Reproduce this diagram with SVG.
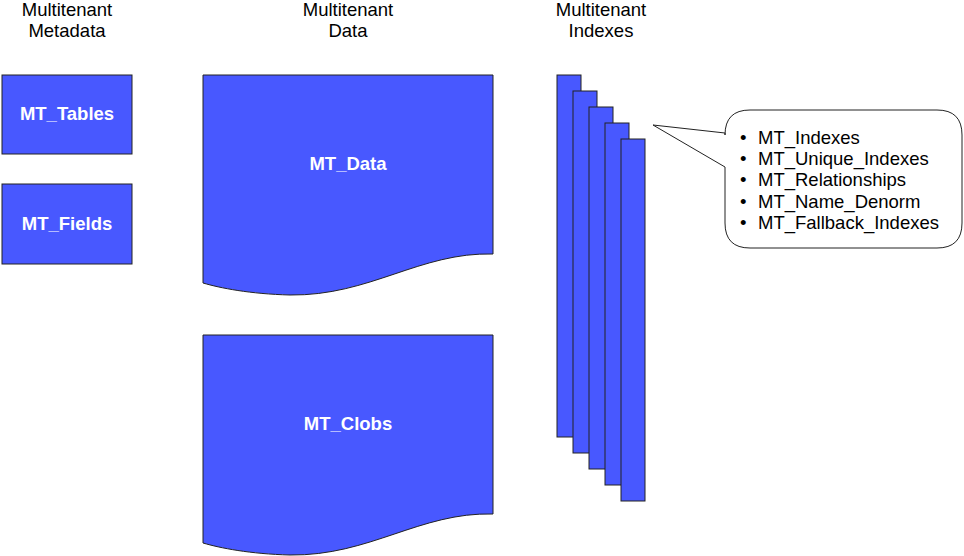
<svg xmlns="http://www.w3.org/2000/svg" width="964" height="556" viewBox="0 0 964 556">
<style>
.b{fill:#4858ff;stroke:#222;stroke-width:1}
.t{font-family:"Liberation Sans",Arial,sans-serif;font-size:18.5px;fill:#000;text-anchor:middle}
.w{font-family:"Liberation Sans",Arial,sans-serif;font-size:18.5px;font-weight:bold;fill:#fff;text-anchor:middle}
.l{font-family:"Liberation Sans",Arial,sans-serif;font-size:18.5px;fill:#000}
</style>
<rect width="964" height="556" fill="#fff"/>
<g id="headers">
<text class="t" x="67" y="16">Multitenant</text><text class="t" x="67" y="37">Metadata</text>
<text class="t" x="348" y="16">Multitenant</text><text class="t" x="348" y="37">Data</text>
<text class="t" x="601" y="16">Multitenant</text><text class="t" x="601" y="37">Indexes</text>
</g>
<g id="mt_tables"><rect class="b" x="2" y="75" width="130" height="79"/><text class="w" x="67" y="120">MT_Tables</text></g>
<g id="mt_fields"><rect class="b" x="2" y="184" width="130" height="80"/><text class="w" x="67" y="230">MT_Fields</text></g>
<g id="mt_data"><path class="b" d="M203,75 H493 V254 C420,252 370,296 290,295 C250,294 220,288 203,283 Z"/><text class="w" x="348" y="170">MT_Data</text></g>
<g id="mt_clobs"><path class="b" d="M203,335 H493 V514 C420,512 370,556 290,555 C250,554 220,548 203,543 Z"/><text class="w" x="348" y="430">MT_Clobs</text></g>
<g id="indexes">
<rect class="b" x="557" y="75" width="24" height="362"/>
<rect class="b" x="573" y="91" width="24" height="362"/>
<rect class="b" x="589" y="107" width="24" height="362"/>
<rect class="b" x="605" y="123" width="24" height="362"/>
<rect class="b" x="621" y="139" width="24" height="362"/>
</g>
<g id="callout">
<path d="M750,110 H937 Q962,110 962,135 V223 Q962,248 937,248 H750 Q725,248 725,223 V167 L653,125 L725,133 V135 Q725,110 750,110 Z" fill="#fff" stroke="#222" stroke-width="1"/>
<g class="l">
<text x="740" y="144">•</text><text x="758" y="144">MT_Indexes</text>
<text x="740" y="165">•</text><text x="758" y="165">MT_Unique_Indexes</text>
<text x="740" y="186">•</text><text x="758" y="186">MT_Relationships</text>
<text x="740" y="208">•</text><text x="758" y="208">MT_Name_Denorm</text>
<text x="740" y="229">•</text><text x="758" y="229">MT_Fallback_Indexes</text>
</g>
</g>
<g id="connectors"></g>
</svg>
